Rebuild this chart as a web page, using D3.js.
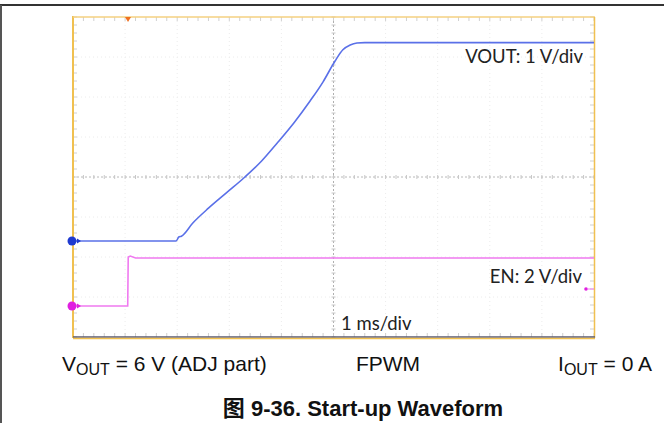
<!DOCTYPE html>
<html><head><meta charset="utf-8">
<script src="https://cdn.jsdelivr.net/npm/d3@7"></script>
<style>body{margin:0;background:#fff}svg{display:block}</style>
</head><body><svg id="c" width="664" height="423"></svg>
<script>
// time in ms, voltage in V
const voutData = [[0,0],[1.98,0],[2.03,0.1],[2.08,0.12],[2.3,0.45],[2.6,0.82],[2.96,1.22],[3.3,1.6],[3.62,2.0],[3.92,2.45],[4.25,2.97],[4.55,3.5],[4.8,3.98],[5.03,4.5],[5.18,4.78],[5.32,4.9],[5.45,4.95],[5.6,4.96],[10,4.96]];
const enData = [[0,0],[1.05,0],[1.06,2.45],[1.1,2.5],[1.2,2.4],[10,2.4]];
const channelLabels = ["VOUT: 1 V/div","EN: 2 V/div"];
const timeLabel = "1 ms/div";
const captionParts = ["V","OUT"," = 6 V (ADJ part)","FPWM","I","OUT"," = 0 A"];
const title = "图 9-36. Start-up Waveform";

const svg = d3.select("#c");
const x = d3.scaleLinear().domain([0,10]).range([73,594]);
const yDiv = d3.scaleLinear().domain([-4,4]).range([337,17]);
const yV = v => yDiv(-1.6 + v/1);
const yE = v => yDiv(-3.225 + v/2);

// outer frame
svg.append("line").attr("x1",0).attr("x2",664).attr("y1",5).attr("y2",5).attr("stroke","#333").attr("stroke-width",2);
svg.append("line").attr("x1",1).attr("x2",1).attr("y1",5).attr("y2",423).attr("stroke","#555").attr("stroke-width",2);

const g = svg.append("g");
// minor grid
d3.range(1,10).filter(d=>d!==5).forEach(d=>{
  g.append("line").attr("x1",x(d)).attr("x2",x(d)).attr("y1",17).attr("y2",337).attr("stroke","#ececec").attr("stroke-dasharray","1,3");
});
d3.range(-3,4).filter(d=>d!==0).forEach(d=>{
  g.append("line").attr("y1",yDiv(d)).attr("y2",yDiv(d)).attr("x1",73).attr("x2",594).attr("stroke","#ececec").attr("stroke-dasharray","1,3");
});
// center crosshair
g.append("line").attr("x1",x(5)).attr("x2",x(5)).attr("y1",17).attr("y2",337).attr("stroke","#b0b0b0").attr("stroke-dasharray","2,2");
g.append("line").attr("y1",yDiv(0)).attr("y2",yDiv(0)).attr("x1",73).attr("x2",594).attr("stroke","#b8b8b8").attr("stroke-dasharray","2,2");
// minor ticks on center and edges
d3.range(0,10.01,0.2).forEach(t=>{
  g.append("line").attr("x1",x(t)).attr("x2",x(t)).attr("y1",yDiv(0)-2).attr("y2",yDiv(0)+2).attr("stroke","#c8c8c8");
  g.append("line").attr("x1",x(t)).attr("x2",x(t)).attr("y1",17).attr("y2",21).attr("stroke","#d0d0d0");
  g.append("line").attr("x1",x(t)).attr("x2",x(t)).attr("y1",333).attr("y2",337).attr("stroke","#d0d0d0");
});
d3.range(-4,4.01,0.2).forEach(d=>{
  g.append("line").attr("y1",yDiv(d)).attr("y2",yDiv(d)).attr("x1",x(5)-2).attr("x2",x(5)+2).attr("stroke","#c8c8c8");
  g.append("line").attr("y1",yDiv(d)).attr("y2",yDiv(d)).attr("x1",73).attr("x2",77).attr("stroke","#d0d0d0");
  g.append("line").attr("y1",yDiv(d)).attr("y2",yDiv(d)).attr("x1",590).attr("x2",594).attr("stroke","#d0d0d0");
});
// plot border
g.append("line").attr("x1",73).attr("x2",73).attr("y1",16).attr("y2",338).attr("stroke","#f0c050").attr("stroke-width",2);
g.append("line").attr("x1",73).attr("x2",595).attr("y1",17).attr("y2",17).attr("stroke","#f5d080").attr("stroke-width",1.5);
g.append("line").attr("x1",594.5).attr("x2",594.5).attr("y1",17).attr("y2",338).attr("stroke","#f0c050").attr("stroke-width",1.5);
g.append("line").attr("x1",73).attr("x2",595).attr("y1",337).attr("y2",337).attr("stroke","#5a5a70").attr("stroke-width",1.5);
g.append("line").attr("x1",73).attr("x2",595).attr("y1",338.5).attr("y2",338.5).attr("stroke","#f0c050").attr("stroke-width",1.5);

// traces
const lineV = d3.line().x(d=>x(d[0])).y(d=>yV(d[1])).curve(d3.curveMonotoneX);
const lineE = d3.line().x(d=>x(d[0])).y(d=>yE(d[1])).curve(d3.curveLinear);
g.append("path").datum(enData).attr("d",lineE).attr("fill","none").attr("stroke","#f07af0").attr("stroke-width",1.6);
g.append("path").datum(voutData).attr("d",lineV).attr("fill","none").attr("stroke","#5a70e8").attr("stroke-width",1.6);

// ground markers
g.append("circle").attr("cx",72).attr("cy",yV(0)).attr("r",4.5).attr("fill","#1f3ad0");
g.append("path").attr("d",`M77,${yV(0)-2.5}L81,${yV(0)}L77,${yV(0)+2.5}Z`).attr("fill","#1f3ad0");
g.append("circle").attr("cx",72).attr("cy",yE(0)).attr("r",4.5).attr("fill","#e020e0");
g.append("path").attr("d",`M77,${yE(0)-2.5}L81,${yE(0)}L77,${yE(0)+2.5}Z`).attr("fill","#e020e0");
g.append("circle").attr("cx",586).attr("cy",289).attr("r",1.8).attr("fill","#e020e0");
g.append("line").attr("x1",587).attr("x2",594).attr("y1",289).attr("y2",289).attr("stroke","#f07af0");
// trigger marker
g.append("path").attr("d",`M${x(1.056)-3},17L${x(1.056)+3},17L${x(1.056)},22Z`).attr("fill","#f07020");

// labels inside
const lf = "Lato, 'Open Sans', sans-serif";
g.append("text").attr("x",583).attr("y",63).attr("text-anchor","end").attr("font-family",lf).attr("font-size",18.5).attr("fill","#222").text(channelLabels[0]);
g.append("text").attr("x",582).attr("y",283).attr("text-anchor","end").attr("font-family",lf).attr("font-size",18.5).attr("fill","#222").text(channelLabels[1]);
g.append("text").attr("x",341).attr("y",330).attr("font-family",lf).attr("font-size",18.5).attr("fill","#222").text(timeLabel);

// caption
const cf = "'Liberation Sans', Arial, sans-serif";
const c1 = svg.append("text").attr("x",62).attr("y",371).attr("font-family",cf).attr("font-size",21).attr("fill","#111");
c1.append("tspan").text(captionParts[0]);
c1.append("tspan").attr("font-size",16).attr("dy",4).text(captionParts[1]);
c1.append("tspan").attr("dy",-4).text(captionParts[2]);
svg.append("text").attr("x",388).attr("y",371).attr("text-anchor","middle").attr("font-family",cf).attr("font-size",21).attr("fill","#111").text(captionParts[3]);
const c3 = svg.append("text").attr("x",652).attr("y",371).attr("text-anchor","end").attr("font-family",cf).attr("font-size",21).attr("fill","#111");
c3.append("tspan").text(captionParts[4]);
c3.append("tspan").attr("font-size",16).attr("dy",4).text(captionParts[5]);
c3.append("tspan").attr("dy",-4).text(captionParts[6]);

svg.append("text").attr("x",363).attr("y",416).attr("text-anchor","middle").attr("font-family","'Liberation Sans', 'Noto Sans CJK SC', sans-serif").attr("font-weight","bold").attr("font-size",22).attr("fill","#111").text(title);
</script></body></html>
